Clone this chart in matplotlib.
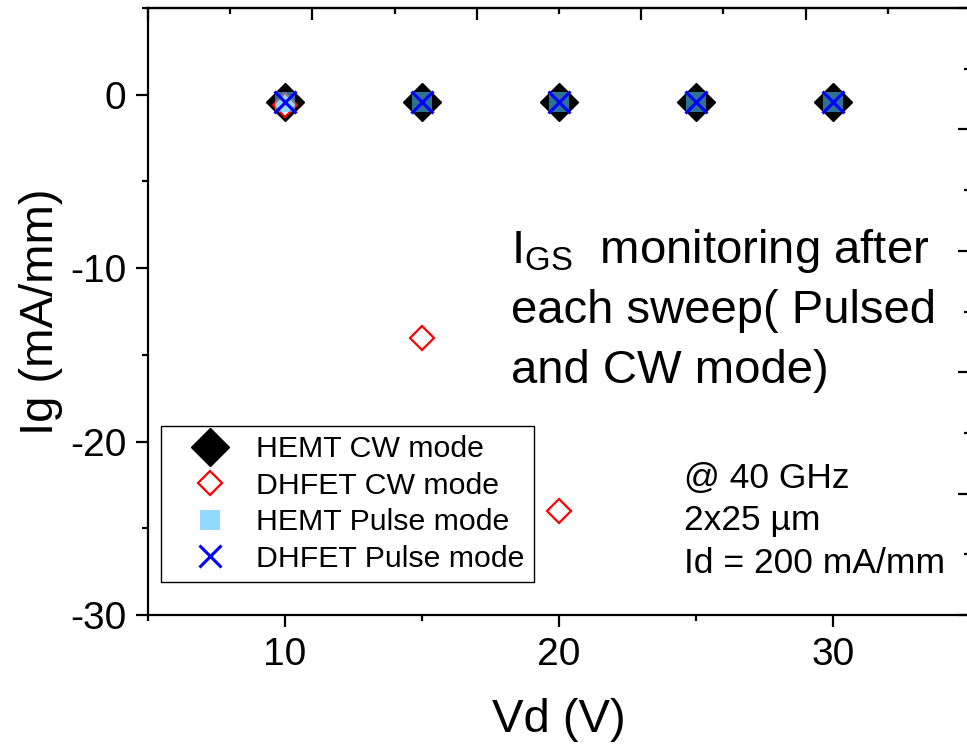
import matplotlib
matplotlib.use('Agg')
import matplotlib.pyplot as plt
from matplotlib.ticker import MultipleLocator

plt.rcParams['font.family'] = ['Liberation Sans', 'DejaVu Sans']
plt.rcParams['mathtext.fontset'] = 'custom'
plt.rcParams['mathtext.rm'] = 'Liberation Sans'
plt.rcParams['mathtext.it'] = 'Liberation Sans:italic'
plt.rcParams['axes.unicode_minus'] = False

# data
vd = [10, 15, 20, 25, 30]
hemt_cw = [-0.4, -0.4, -0.4, -0.4, -0.4]
vd_dhfet_cw = [10, 15, 20]
dhfet_cw = [-0.6, -14.0, -24.0]
hemt_pulse = [-0.4, -0.4, -0.4, -0.4, -0.4]
dhfet_pulse = [-0.4, -0.4, -0.4, -0.4, -0.4]

fig = plt.figure(figsize=(9.67, 7.44), dpi=100)
ax = fig.add_axes([148/967, 1-615/744, 822/967, 607/744])

ax.plot(vd, hemt_cw, ls='none', marker='D', ms=19.5, color='black', label='HEMT CW mode')
ax.plot(vd_dhfet_cw, dhfet_cw, ls='none', marker='D', ms=12.5, mfc='white', mec='red',
        mew=1.6, label='DHFET CW mode')
ax.plot(vd, hemt_pulse, ls='none', marker='s', ms=14, color='#4bc0fa', alpha=0.6, mew=0,
        label='HEMT Pulse mode')
ax.plot(vd, dhfet_pulse, ls='none', marker='x', ms=16, mew=2.2, color='blue',
        label='DHFET Pulse mode')

ax.set_xlim(5, 35)
ax.set_ylim(-30, 5)
ax.xaxis.set_major_locator(MultipleLocator(10))
ax.xaxis.set_minor_locator(MultipleLocator(5))
ax.yaxis.set_major_locator(MultipleLocator(10))
ax.yaxis.set_minor_locator(MultipleLocator(5))
ax.tick_params(which='both', direction='out', width=1.6, labelsize=28, pad=7,
               top=False, right=False)
ax.tick_params(which='major', length=8.5)
ax.tick_params(which='minor', length=4.5)
for s in ax.spines.values():
    s.set_linewidth(1.6)

# top and right axes belong to another scale (labels cut off)
secx = ax.secondary_xaxis('top', functions=(lambda x: (x - 5) / 6, lambda t: t * 6 + 5))
secx.xaxis.set_major_locator(MultipleLocator(1))
secx.xaxis.set_minor_locator(MultipleLocator(0.5))
secx.tick_params(which='both', direction='in', width=1.6, labeltop=False)
secx.tick_params(which='major', length=8.5)
secx.tick_params(which='minor', length=4.5)
secx.spines['top'].set_linewidth(1.6)

secy = ax.secondary_yaxis('right', functions=(lambda y: (y + 30) / 7, lambda t: t * 7 - 30))
secy.yaxis.set_major_locator(MultipleLocator(1))
secy.yaxis.set_minor_locator(MultipleLocator(0.5))
secy.tick_params(which='both', direction='in', width=1.6, labelright=False)
secy.tick_params(which='major', length=8.5)
secy.tick_params(which='minor', length=4.5)
secy.spines['right'].set_linewidth(1.6)

ax.set_xlabel('Vd (V)', fontsize=34, labelpad=18)
ax.set_ylabel('Ig (mA/mm)', fontsize=34, labelpad=5)

ax.text(18.25, -9.73, r'I$_{\rm GS}$  monitoring after', fontsize=34, va='baseline')
ax.text(18.25, -13.18, 'each sweep( Pulsed', fontsize=34, va='baseline')
ax.text(18.25, -16.64, 'and CW mode)', fontsize=34, va='baseline')

ax.text(24.55, -22.7, '@ 40 GHz', fontsize=25.5, va='baseline')
ax.text(24.55, -25.1, '2x25 µm', fontsize=25.5, va='baseline')
ax.text(24.55, -27.6, 'Id = 200 mA/mm', fontsize=25.5, va='baseline')

leg = ax.legend(loc='lower left', bbox_to_anchor=(0.0158, 0.0545), fontsize=21.8,
                frameon=True, fancybox=False, edgecolor='black', framealpha=1,
                borderpad=0.3, labelspacing=0.28, handlelength=2.65, handletextpad=0.2,
                borderaxespad=0)
leg.get_frame().set_linewidth(1.0)

fig.savefig('out.png', dpi=100)
